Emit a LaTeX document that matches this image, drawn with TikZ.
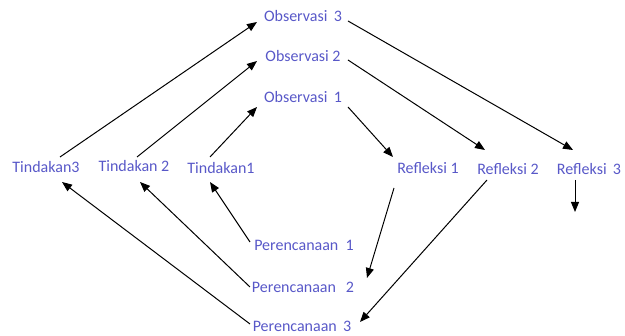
\documentclass[tikz,border=0pt]{standalone}
\usepackage{fontspec}
\setmainfont{Carlito}
\usepackage{xcolor}
\usepackage{tikz}
\usetikzlibrary{arrows.meta}
\definecolor{stepblue}{RGB}{88,88,200}

\tikzset{
    lbl/.style={text=stepblue, inner sep=0pt, font=\fontsize{16}{18}\selectfont},
    arr/.style={draw=black, line width=1pt, -{Triangle[length=10pt,width=8pt]}}
}

\begin{document}
\begin{tikzpicture}[x=1pt,y=-1pt]
        \useasboundingbox (0,0) rectangle (625,336);

        \node[lbl] (o3) at (303,16) {Observasi~\,3};
        \node[lbl] (o2) at (303,56) {Observasi~2};
        \node[lbl] (o1) at (303,97) {Observasi~\,1};

        \node[lbl] (t3) at (46,167) {Tindakan3};
        \node[lbl] (t2) at (134,166) {Tindakan~2};
        \node[lbl] (t1) at (221,168) {Tindakan1};

        \node[lbl] (r1) at (428,168) {Refleksi~1};
        \node[lbl] (r2) at (508,169) {Refleksi~2};
        \node[lbl] (r3) at (589,169) {Refleksi~\,3};

        \node[lbl] (p1) at (304,245) {Perencanaan~~1};
        \node[lbl] (p2) at (303,287) {Perencanaan~~\,2};
        \node[lbl] (p3) at (302,326) {Perencanaan~\,3};

        \coordinate (r3end) at (575,212);

        \draw[arr] ([shift={(14,-10)}]t3.center)--([shift={(-46,6)}]o3.center);
        \draw[arr] ([shift={(3,-9)}]t2.center)--([shift={(-46,5)}]o2.center);
        \draw[arr] ([shift={(-11,-11)}]t1.center)--([shift={(-46,10)}]o1.center);

        \draw[arr] ([shift={(45,5)}]o3.center)--([shift={(-16,-19)}]r3.center);
        \draw[arr] ([shift={(45,4)}]o2.center)--([shift={(-23,-19)}]r2.center);
        \draw[arr] ([shift={(45,10)}]o1.center)--([shift={(-35,-11)}]r1.center);

        \draw[arr] ([shift={(-14,11)}]r3.center)--(r3end);
        \draw[arr] ([shift={(-34,20)}]r1.center)--([shift={(64,-9)}]p2.center);
        \draw[arr] ([shift={(-21,11)}]r2.center)--([shift={(58,-4)}]p3.center);

        \draw[arr] ([shift={(-54,-3)}]p1.center)--([shift={(-11,14)}]t1.center);
        \draw[arr] ([shift={(-53,0)}]p2.center)--([shift={(6,16)}]t2.center);
        \draw[arr] ([shift={(-52,-2)}]p3.center)--([shift={(16,15)}]t3.center);
    \end{tikzpicture}
\end{document}
